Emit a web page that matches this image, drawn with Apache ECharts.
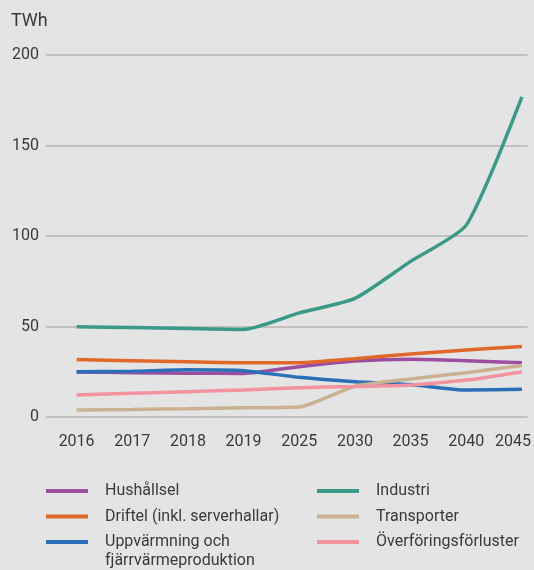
<!DOCTYPE html>
<html>
<head>
<meta charset="utf-8">
<script src="https://cdn.jsdelivr.net/npm/echarts@6/dist/echarts.min.js"></script>
<style>
html,body{margin:0;padding:0;background:#e4e4e4;}
#chart{width:534px;height:570px;}
</style>
</head>
<body>
<div id="chart"></div>
<script>
var categories = ['2016','2017','2018','2019','2025','2030','2035','2040','2045'];
var yTicks = [0, 50, 100, 150, 200];
var hushallsel = [24.9, 24.5, 24.2, 24.1, 27.8, 30.9, 31.9, 31.1, 30.0];
var driftel = [31.7, 31.1, 30.5, 30.0, 30.0, 32.2, 34.8, 37.0, 39.0];
var uppvarmning = [25.0, 25.3, 26.1, 25.6, 21.9, 19.5, 17.9, 14.9, 15.3];
var industri = [49.9, 49.4, 48.9, 48.4, 57.5, 65.5, 86.0, 106.0, 176.8];
var transporter = [3.9, 4.2, 4.6, 5.1, 5.5, 17.0, 21.0, 24.5, 28.4];
var overforing = [12.2, 13.1, 14.0, 14.9, 16.2, 16.8, 17.7, 20.4, 24.9];

var names = ['Hushållsel', 'Driftel (inkl. serverhallar)', 'Uppvärmning och fjärrvärmeproduktion', 'Industri', 'Transporter', 'Överföringsförluster'];
var colors = ['#9b4f9e', '#e0682a', '#2b6fb8', '#3b9a87', '#c9b192', '#f2939f'];
var values = [hushallsel, driftel, uppvarmning, industri, transporter, overforing];

function pairs(arr) { return arr.map(function (v, i) { return [i, v]; }); }

var textColor = '#3a3a3a';
var font = 'Roboto';

var series = names.map(function (n, k) {
  return {
    name: n, type: 'line', data: pairs(values[k]), smooth: 0.2,
    symbol: 'none', lineStyle: { width: 3.5, color: colors[k] }, itemStyle: { color: colors[k] },
    z: k === 3 ? 3 : 2
  };
});

function mkLegend(name, left, top, extra) {
  var l = {
    data: [name], left: left, top: top, padding: 0, orient: 'horizontal',
    itemWidth: 42, itemHeight: 4, icon: 'rect', selectedMode: false,
    textStyle: { fontFamily: font, fontSize: 16, color: textColor, lineHeight: 19, padding: [0, 0, 0, 12] }
  };
  if (extra) extra(l);
  return l;
}

var legends = [
  mkLegend(names[0], 46, 481.5),
  mkLegend(names[1], 46, 507),
  mkLegend(names[2], 46, 532.5, function (l) {
    l.formatter = function () { return 'Uppvärmning och\nfjärrvärmeproduktion'; };
    l.itemHeight = 23;
    l.symbolKeepAspect = false;
    l.icon = 'path://M0,0L42,0L42,4L0,4Z M0,23L0,23';
  }),
  mkLegend(names[3], 317, 481.5),
  mkLegend(names[4], 317, 507),
  mkLegend(names[5], 317, 532.5)
];

var chart = echarts.init(document.getElementById('chart'));
chart.setOption({
  backgroundColor: '#e4e4e4',
  animation: false,
  title: { text: 'TWh', left: 11, top: 12, padding: 0, textStyle: { fontFamily: font, fontSize: 18, fontWeight: 'normal', color: textColor } },
  legend: legends,
  grid: { left: 46, right: 6, top: 55, bottom: 153, containLabel: false },
  xAxis: {
    type: 'value', min: -0.55, max: 8.1,
    splitLine: { show: false }, axisLine: { show: false }, axisTick: { show: false },
    axisLabel: {
      customValues: [0, 1, 2, 3, 4, 5, 6, 7, 7.84],
      formatter: function (v) { return categories[Math.round(v)]; },
      fontFamily: font, fontSize: 16, color: textColor, margin: 17
    }
  },
  yAxis: {
    type: 'value', min: 0, max: 200, interval: 50,
    axisLine: { show: false }, axisTick: { show: false },
    splitLine: { lineStyle: { color: '#b4b4b4', width: 1.5 } },
    axisLabel: {
      formatter: function (v) { return yTicks.indexOf(v) >= 0 ? String(v) : ''; },
      fontFamily: font, fontSize: 16, color: textColor, margin: 7
    }
  },
  series: series
});
</script>
</body>
</html>
